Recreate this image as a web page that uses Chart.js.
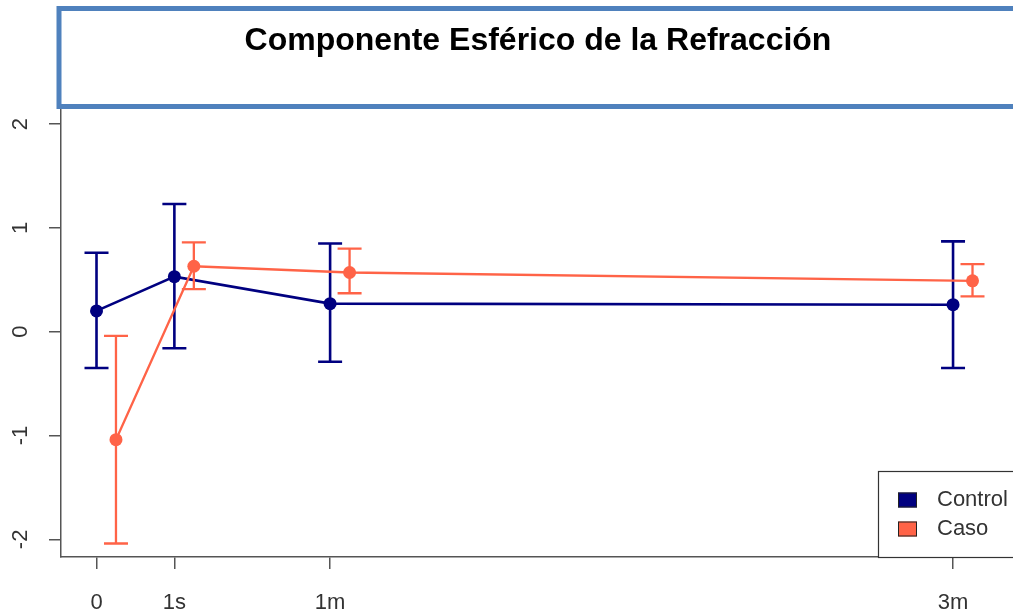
<!DOCTYPE html>
<html>
<head>
<meta charset="utf-8">
<title>Componente Esférico de la Refracción</title>
<script src="https://cdn.jsdelivr.net/npm/chart.js@4.4.1/dist/chart.umd.min.js"></script>
<style>
  html, body { margin: 0; padding: 0; background: #fff; }
  canvas { display: block; }
</style>
</head>
<body>
<canvas id="refraccionChart" width="1013" height="614"></canvas>
<script>
// Tiempos de control (posicion en el eje x) y etiquetas
const timeLabels = ['0', '1s', '1m', '3m'];
const timeX = [0, 1, 3, 11];
const casoShift = 0.25; // el grupo Caso va un poco desplazado a la derecha

// Medias e intervalos
const controlMean = [0.20, 0.53, 0.27, 0.26];
const controlLow  = [-0.35, -0.16, -0.29, -0.35];
const controlHigh = [0.76, 1.23, 0.85, 0.87];

const casoMean = [-1.04, 0.63, 0.57, 0.49];
const casoLow  = [-2.04, 0.41, 0.37, 0.34];
const casoHigh = [-0.04, 0.86, 0.80, 0.65];

const yTicks = [-2, -1, 0, 1, 2];

const titulo = 'Componente Esférico de la Refracción';
const font = '"Liberation Sans", Arial, sans-serif';

function puntos(means, shift) {
  return timeX.map((x, i) => ({ x: x + shift, y: means[i] }));
}

// Barras de error, dibujadas justo antes de cada serie
const errorBars = {
  id: 'errorBars',
  beforeDatasetDraw(chart, args) {
    const ds = chart.data.datasets[args.index];
    if (!ds.errLow) return;
    const xs = chart.scales.x, ys = chart.scales.y;
    const c = chart.ctx;
    c.save();
    c.strokeStyle = ds.borderColor;
    c.lineWidth = ds.borderWidth;
    ds.data.forEach((p, i) => {
      const px = xs.getPixelForValue(p.x);
      const lo = ys.getPixelForValue(ds.errLow[i]);
      const hi = ys.getPixelForValue(ds.errHigh[i]);
      c.beginPath();
      c.moveTo(px, lo); c.lineTo(px, hi);
      c.moveTo(px - 12, lo); c.lineTo(px + 12, lo);
      c.moveTo(px - 12, hi); c.lineTo(px + 12, hi);
      c.stroke();
    });
    c.restore();
  }
};

// Etiquetas del eje y giradas (estilo R), recuadro del titulo y leyenda
const decor = {
  id: 'decor',
  afterDraw(chart) {
    const c = chart.ctx;
    const ys = chart.scales.y;
    c.save();
    c.fillStyle = '#333';
    c.font = '22px ' + font;
    c.textAlign = 'center';
    c.textBaseline = 'middle';
    yTicks.forEach(v => {
      c.save();
      c.translate(21, ys.getPixelForValue(v));
      c.rotate(-Math.PI / 2);
      c.fillText(String(v), 0, 0);
      c.restore();
    });

    // titulo
    c.fillStyle = '#fff';
    c.fillRect(59, 8.5, 970, 98);
    c.strokeStyle = '#4F81BD';
    c.lineWidth = 5;
    c.strokeRect(59, 8.5, 970, 98);
    c.fillStyle = '#000';
    c.font = 'bold 32px ' + font;
    c.textBaseline = 'alphabetic';
    c.fillText(titulo, 538, 50);

    // leyenda
    c.fillStyle = '#fff';
    c.fillRect(878, 471, 140, 86);
    c.strokeStyle = '#333';
    c.lineWidth = 1.2;
    c.strokeRect(878.5, 471.5, 140, 86);
    c.font = '22px ' + font;
    c.textAlign = 'left';
    c.textBaseline = 'middle';
    chart.data.datasets.forEach((ds, i) => {
      const y = 500 + i * 29;
      c.fillStyle = ds.borderColor;
      c.fillRect(898, y - 7.5, 19, 15);
      c.strokeStyle = '#222';
      c.lineWidth = 1;
      c.strokeRect(898.5, y - 7, 18, 14);
      c.fillStyle = '#333';
      c.fillText(ds.label, 937, y);
    });
    c.restore();
  }
};

const ctx = document.getElementById('refraccionChart').getContext('2d');
const refraccionChart = new Chart(ctx, {
  type: 'line',
  data: {
    datasets: [{
      label: 'Control',
      data: puntos(controlMean, 0),
      errLow: controlLow,
      errHigh: controlHigh,
      borderColor: '#000080',
      backgroundColor: '#000080',
      borderWidth: 2.6,
      pointRadius: 6.5,
      pointBorderWidth: 0,
      order: 1
    }, {
      label: 'Caso',
      data: puntos(casoMean, casoShift),
      errLow: casoLow,
      errHigh: casoHigh,
      borderColor: '#FF6347',
      backgroundColor: '#FF6347',
      borderWidth: 2.3,
      pointRadius: 6.5,
      pointBorderWidth: 0,
      order: 0
    }]
  },
  options: {
    responsive: false,
    animation: false,
    devicePixelRatio: 1,
    layout: { autoPadding: false, padding: { top: 107, left: 0, right: 0, bottom: 0 } },
    scales: {
      x: {
        type: 'linear',
        min: -0.456,
        max: 11.77,
        afterBuildTicks: s => { s.ticks = timeX.map(v => ({ value: v })); },
        afterFit: s => { s.height = 57; s.paddingLeft = 0; s.paddingRight = 0; },
        ticks: {
          callback: v => timeLabels[timeX.indexOf(v)],
          font: { family: font, size: 22 },
          color: '#333',
          padding: 21,
          maxRotation: 0
        },
        grid: { drawOnChartArea: false, tickLength: 12, color: '#555', lineWidth: 1.5 },
        border: { color: '#555', width: 1.5 }
      },
      y: {
        min: -2.17,
        max: 2.164,
        afterBuildTicks: s => { s.ticks = yTicks.map(v => ({ value: v })); },
        afterFit: s => { s.width = 61; s.paddingTop = 0; s.paddingBottom = 0; },
        ticks: { display: false },
        grid: { drawOnChartArea: false, tickLength: 12, color: '#555', lineWidth: 1.5 },
        border: { color: '#555', width: 1.5 }
      }
    },
    plugins: {
      legend: { display: false },
      title: { display: false },
      tooltip: { enabled: false }
    }
  },
  plugins: [errorBars, decor]
});
</script>
</body>
</html>
